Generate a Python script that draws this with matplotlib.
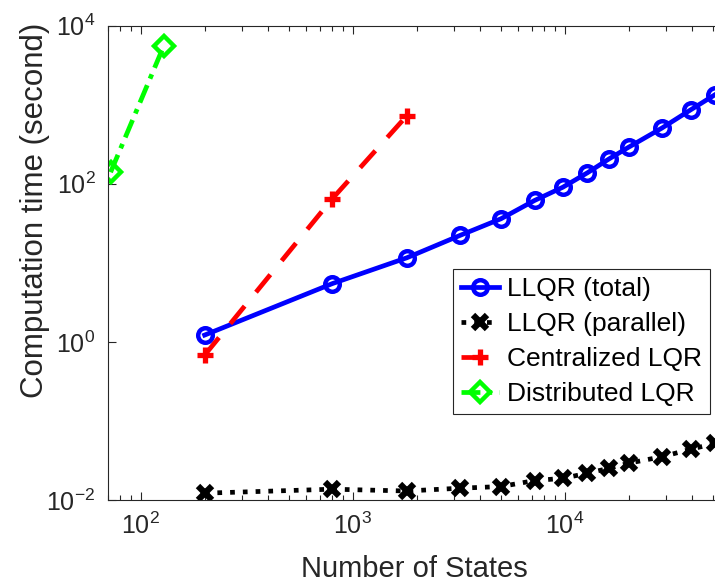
import matplotlib
matplotlib.use("Agg")
import matplotlib.pyplot as plt
from matplotlib.ticker import LogLocator, NullLocator, NullFormatter

plt.rcParams['font.family'] = ['Liberation Sans', 'DejaVu Sans']

# number of states for each test case
n_states_llqr = [200, 800, 1800, 3200, 5000, 7200, 9800, 12800, 16200, 20000, 28800, 39200, 51200]
n_states_central = [200, 800, 1800]
n_states_distrib = [72, 128]

# computation times (seconds)
time_llqr_total = [1.22, 5.46, 11.6, 22.2, 36.1, 61.5, 90.6, 138, 207, 290, 509, 860, 1342]
time_llqr_parallel = [0.0122, 0.0137, 0.0130, 0.0141, 0.0148, 0.0176, 0.0188,
                      0.0218, 0.0252, 0.0292, 0.0353, 0.0438, 0.0521]
time_central = [0.68, 64.7, 728]
time_distrib = [140, 5460]

labels = ["LLQR (total)", "LLQR (parallel)", "Centralized LQR", "Distributed LQR"]

dark = '#262626'
W, H = 715, 585
fig = plt.figure(figsize=(W / 100, H / 100), dpi=100)
ax = fig.add_axes([108 / W, 85 / H, 612 / W, 474.3 / H])

lw = 3.4
ax.plot(n_states_llqr, time_llqr_total, '-', color='b', lw=lw, marker='o',
        ms=10.5, mew=3.2, mfc='none', label=labels[0])
l2, = ax.plot(n_states_llqr, time_llqr_parallel, color='k', lw=lw, marker='x',
              ms=10, mew=4.5, label=labels[1])
l2.set_dashes([1, 1.7])
l3, = ax.plot(n_states_central, time_central, color='r', lw=lw, marker='+',
              ms=12, mew=3.8, label=labels[2])
l3.set_dashes([4.8, 3.8])
l4, = ax.plot(n_states_distrib, time_distrib, color='#00ff00', lw=lw, marker='D',
              ms=10.5, mew=3.2, mfc='none', label=labels[3])
l4.set_dashes([4, 1.5, 1, 1.5])

ax.set_xscale('log')
ax.set_yscale('log')
ax.set_xlim(70, 54000)
ax.set_ylim(1e-2, 1e4)

ax.xaxis.set_major_locator(LogLocator(base=10, numticks=10))
ax.xaxis.set_minor_locator(LogLocator(base=10, subs=range(2, 10), numticks=10))
ax.xaxis.set_minor_formatter(NullFormatter())
ax.yaxis.set_major_locator(LogLocator(base=100, numticks=10))
ax.yaxis.set_minor_locator(NullLocator())

ax.tick_params(which='both', direction='in', top=True, right=False,
               color=dark, labelcolor=dark, labelsize=18, width=0.8)
ax.tick_params(which='major', length=6, pad=9)
ax.tick_params(which='minor', length=3.5)
for s in ax.spines.values():
    s.set_color(dark)
    s.set_linewidth(0.8)

ax.set_xlabel("Number of States", fontsize=21, color=dark)
ax.set_ylabel("Computation time (second)", fontsize=22.5, color=dark)
ax.xaxis.set_label_coords(0.5, -0.117)
ax.yaxis.set_label_coords(-0.095, 0.61)

leg = ax.legend(loc='upper left', bbox_to_anchor=(0.5637, 0.487), borderaxespad=0,
                fontsize=19, numpoints=1, handlelength=1.45, handletextpad=0.3,
                labelspacing=0.42, borderpad=0.3, fancybox=False, framealpha=1)
leg.get_frame().set_edgecolor(dark)
leg.get_frame().set_linewidth(0.8)

fig.savefig("out.png", dpi=100)
